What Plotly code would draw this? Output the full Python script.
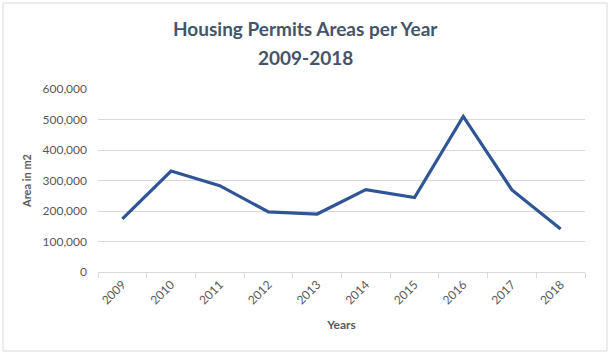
import plotly.graph_objects as go

years = ["2009", "2010", "2011", "2012", "2013", "2014", "2015", "2016", "2017", "2018"]
areas = [174000, 331000, 283000, 197000, 190000, 270000, 244000, 510000, 269000, 141000]
y_ticks = [0, 100000, 200000, 300000, 400000, 500000, 600000]
y_tick_labels = ["0", "100,000", "200,000", "300,000", "400,000", "500,000", "600,000"]
title_lines = ["Housing Permits Areas per Year", "2009-2018"]

W, H = 610, 354
L, R, T, B = 98, 25, 89, 82
pw, ph = W - L - R, H - T - B
FONT = "Lato, Open Sans, sans-serif"

fig = go.Figure()
fig.add_trace(go.Scatter(
    x=years, y=areas, mode="lines",
    line=dict(color="#2F5597", width=3.2),
    hoverinfo="x+y",
))

fig.update_layout(
    width=W, height=H,
    margin=dict(l=L, r=R, t=T, b=B),
    paper_bgcolor="white", plot_bgcolor="white",
    showlegend=False,
    font=dict(family=FONT, color="#595959"),
    xaxis=dict(
        type="category",
        tickangle=-45,
        tickfont=dict(size=12, color="#595959"),
        showgrid=False,
        showline=True, linecolor="#D9D9D9", linewidth=1,
        ticks="outside", ticklen=5, tickcolor="#D9D9D9",
        tickson="boundaries",
        title=dict(text="<b>Years</b>", font=dict(size=12, color="#595959"), standoff=14),
        range=[-0.5, 9.5],
    ),
    yaxis=dict(
        range=[0, 600000],
        tickvals=y_ticks, ticktext=y_tick_labels,
        tickfont=dict(size=12, color="#595959"),
        showgrid=True, gridcolor="#D9D9D9", gridwidth=1,
        zeroline=False, showline=False,
        ticks="", ticklabelstandoff=10,
        title=dict(text="<b>Area in m2</b>", font=dict(size=11, color="#595959"), standoff=8),
    ),
)

for txt, ypix in zip(title_lines, [28, 57]):
    fig.add_annotation(
        text="<b>" + txt + "</b>", xref="paper", yref="paper",
        x=(W / 2 - L) / pw, y=(H - B - ypix) / ph,
        xanchor="center", yanchor="middle", showarrow=False,
        font=dict(size=19, color="#44546A", family=FONT),
    )

fig.add_shape(
    type="rect", xref="paper", yref="paper",
    x0=(3 - L) / pw, x1=(W - 3 - L) / pw,
    y0=(H - B - (H - 3)) / ph, y1=(H - B - 3) / ph,
    line=dict(color="#D9D9D9", width=1), fillcolor="rgba(0,0,0,0)", layer="below",
)

fig.write_html("out.html")
